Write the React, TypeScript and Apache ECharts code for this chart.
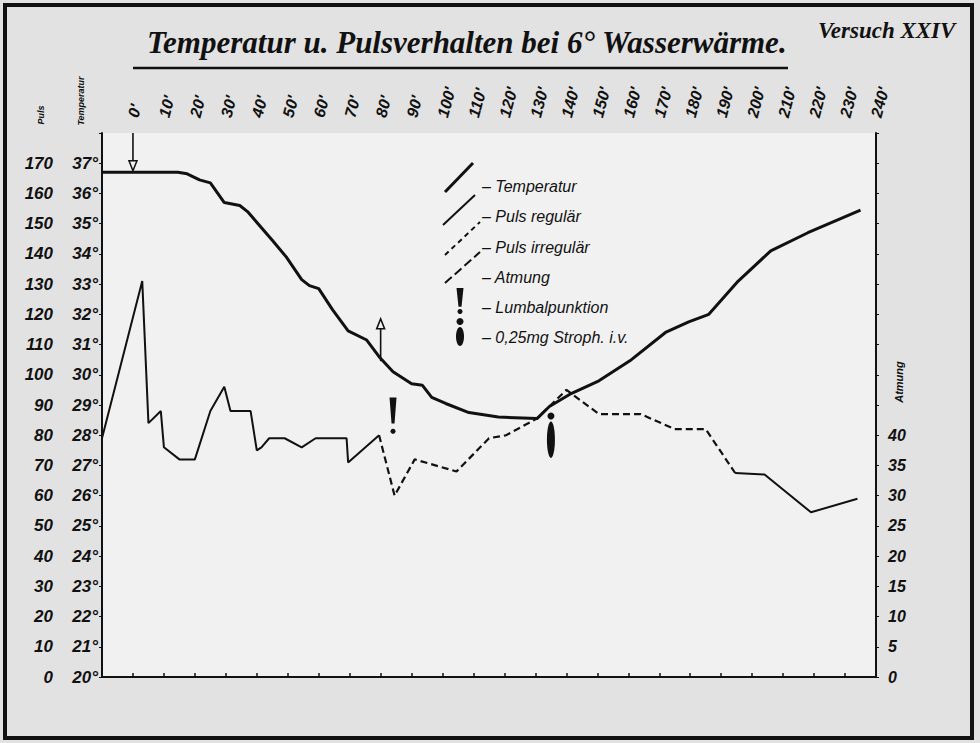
import React, { useEffect, useRef } from "react";
import * as echarts from "echarts";

// ---- data ----
const xMinutes = [-10, 240];
const pulsRange = [0, 180];
const tempRange = [20, 38];
const atmungRange = [0, 90];

// Temperatur [minute, °C]
const temperatur: [number, number][] = [
  [-10, 36.7], [14.5, 36.7], [17.5, 36.65], [21.5, 36.45], [25, 36.35], [29.5, 35.7],
  [34.5, 35.6], [37, 35.4], [45, 34.45], [49.5, 33.9], [54.5, 33.15], [57, 32.95],
  [60, 32.85], [64.5, 32.15], [69.5, 31.45], [75.5, 31.15], [79.5, 30.6], [84, 30.1],
  [90, 29.7], [93.5, 29.65], [96.5, 29.25], [101, 29.05], [108.5, 28.75], [118, 28.6],
  [130.5, 28.55], [134.5, 28.95], [141, 29.35], [150.5, 29.8], [161, 30.5], [172, 31.4],
  [179.5, 31.75], [186, 32], [195.5, 33.1], [206, 34.1], [218, 34.7], [235, 35.45],
];

// Puls regulär (first part)
const pulsRegularA: [number, number][] = [
  [-10, 79], [3, 131], [5, 84], [9, 88], [10, 76], [15, 72], [20, 72], [25, 88],
  [29.5, 96], [31.5, 88], [38, 88], [40, 75], [41.5, 76], [44, 79], [49, 79],
  [54.5, 76], [59, 79], [69, 79], [69.5, 71], [79.5, 80],
];
// Puls irregulär
const pulsIrregular: [number, number][] = [
  [79.5, 80], [84.5, 60], [91, 72], [104.5, 68], [115, 79], [120.5, 80], [130.5, 85.5],
  [140, 95], [150.5, 87], [164, 87], [175, 82], [185, 82], [194.5, 67.5],
];
// Puls regulär (second part)
const pulsRegularB: [number, number][] = [
  [194.5, 67.5], [204, 67], [219, 54.5], [234, 59],
];

// event markers: [minute, from (puls scale), to (puls scale)]
const markerData: [number, number, number][] = [
  [0, 180, 167.5],
  [80, 104.5, 118.5],
  [84, 92.5, 80.5],
  [135, 87.5, 72.5],
];
const markerKinds = ["down", "up", "lumbal", "stroph"];

const legendLabels = [
  "– Temperatur",
  "– Puls regulär",
  "– Puls irregulär",
  "– Atmung",
  "– Lumbalpunktion",
  "– 0,25mg Stroph. i.v.",
];

const INK = "#111";
const LBL_FONT = "Liberation Sans";

function exclamation(x: number, yTop: number, yBot: number) {
  const h = yBot - yTop;
  return [
    {
      type: "polygon",
      shape: {
        points: [
          [x - 3.5, yTop], [x + 3.5, yTop], [x + 1.5, yTop + h * 0.72], [x - 1.5, yTop + h * 0.72],
        ],
      },
      style: { fill: INK },
    },
    { type: "circle", shape: { cx: x, cy: yBot - 2.5, r: 2.5 }, style: { fill: INK } },
  ];
}

function drop(x: number, yTop: number, yBot: number) {
  const dotR = 3.5;
  const bodyTop = yTop + dotR * 2 + 2;
  return [
    { type: "circle", shape: { cx: x, cy: yTop + dotR, r: dotR }, style: { fill: INK } },
    {
      type: "ellipse",
      shape: { cx: x, cy: (bodyTop + yBot) / 2, rx: 4, ry: (yBot - bodyTop) / 2 },
      style: { fill: INK },
    },
  ];
}

export default function App() {
  const ref = useRef<HTMLDivElement>(null);

  useEffect(() => {
    if (!ref.current) return;
    const chart = echarts.init(ref.current, null, { renderer: "svg" });

    const axisFont = {
      fontFamily: LBL_FONT,
      fontStyle: "italic",
      fontWeight: "bold",
      fontSize: 17,
      color: INK,
    };

    const legendX1 = 445;
    const legendRows = [186, 216, 247, 277, 307, 337];

    const graphics: any[] = [
      // frame
      {
        type: "rect",
        shape: { x: 5, y: 5, width: 967, height: 733 },
        style: { fill: "none", stroke: INK, lineWidth: 4 },
        silent: true,
      },
      // title
      {
        type: "text",
        x: 147,
        y: 42,
        style: {
          text: "Temperatur u. Pulsverhalten bei 6° Wasserwärme.",
          font: "italic bold 31px 'Liberation Serif'",
          fill: INK,
          verticalAlign: "middle",
        },
      },
      {
        type: "line",
        shape: { x1: 133, y1: 68, x2: 788, y2: 68 },
        style: { stroke: INK, lineWidth: 2.5 },
      },
      {
        type: "text",
        x: 818,
        y: 30,
        style: {
          text: "Versuch XXIV",
          font: "italic bold 23px 'Liberation Serif'",
          fill: INK,
          verticalAlign: "middle",
        },
      },
      // axis titles
      {
        type: "text",
        x: 41,
        y: 115,
        rotation: Math.PI / 2,
        style: {
          text: "Puls",
          font: "italic bold 9px 'Liberation Sans'",
          fill: INK,
          align: "center",
          verticalAlign: "middle",
        },
      },
      {
        type: "text",
        x: 81,
        y: 101,
        rotation: Math.PI / 2,
        style: {
          text: "Temperatur",
          font: "italic bold 9px 'Liberation Sans'",
          fill: INK,
          align: "center",
          verticalAlign: "middle",
        },
      },
      {
        type: "text",
        x: 899,
        y: 382,
        rotation: Math.PI / 2,
        style: {
          text: "Atmung",
          font: "italic bold 11px 'Liberation Sans'",
          fill: INK,
          align: "center",
          verticalAlign: "middle",
        },
      },
      // legend symbols
      {
        type: "line",
        shape: { x1: legendX1, y1: 192, x2: 473, y2: 163 },
        style: { stroke: INK, lineWidth: 3 },
      },
      {
        type: "line",
        shape: { x1: legendX1 - 2, y1: 225, x2: 475, y2: 195 },
        style: { stroke: INK, lineWidth: 2 },
      },
      {
        type: "line",
        shape: { x1: legendX1, y1: 255, x2: 480, y2: 222 },
        style: { stroke: INK, lineWidth: 2, lineDash: [5, 4] },
      },
      {
        type: "line",
        shape: { x1: legendX1, y1: 283, x2: 480, y2: 252 },
        style: { stroke: INK, lineWidth: 2, lineDash: [9, 4] },
      },
      ...exclamation(460, 288, 314),
      ...drop(460, 318, 346),
      ...legendLabels.map((t, i) => ({
        type: "text",
        x: 482,
        y: legendRows[i],
        style: {
          text: t,
          font: "italic 16px 'Liberation Sans'",
          fill: INK,
          verticalAlign: "middle",
        },
      })),
    ];

    chart.setOption({
      animation: false,
      backgroundColor: "#e2e2e2",
      grid: {
        left: 102,
        right: 104,
        top: 133,
        bottom: 66,
        show: true,
        backgroundColor: "#f1f1f1",
        borderWidth: 0,
      },
      xAxis: {
        type: "value",
        position: "top",
        min: xMinutes[0],
        max: xMinutes[1],
        interval: 10,
        axisLine: { lineStyle: { color: INK, width: 2 } },
        axisTick: { inside: false, length: 4, lineStyle: { color: INK, width: 1.5 } },
        splitLine: { show: false },
        axisLabel: {
          ...axisFont,
          fontSize: 16,
          rotate: 75,
          margin: 16,
          formatter: (v: number) => (v < 0 ? "" : `${v}'`),
        },
      },
      yAxis: [
        {
          type: "value",
          position: "left",
          offset: 45,
          min: pulsRange[0],
          max: pulsRange[1],
          interval: 10,
          axisLine: { show: false },
          axisTick: { show: false },
          splitLine: { show: false },
          axisLabel: {
            ...axisFont,
            margin: 4,
            padding: [0, 0, 14, 0],
            formatter: (v: number) => (v <= 170 ? String(v) : ""),
          },
        },
        {
          type: "value",
          position: "left",
          min: tempRange[0],
          max: tempRange[1],
          interval: 1,
          axisLine: { show: true, lineStyle: { color: INK, width: 2 } },
          axisTick: { show: true, length: 3, lineStyle: { color: INK } },
          splitLine: { show: false },
          axisLabel: {
            ...axisFont,
            margin: 4,
            padding: [0, 0, 14, 0],
            formatter: (v: number) => (v <= 37 ? `${v}°` : ""),
          },
        },
        {
          type: "value",
          position: "right",
          min: atmungRange[0],
          max: atmungRange[1],
          interval: 5,
          axisLine: { show: true, lineStyle: { color: INK, width: 2 } },
          axisTick: { show: true, length: 3, lineStyle: { color: INK } },
          splitLine: { show: false },
          axisLabel: {
            ...axisFont,
            fontSize: 16,
            margin: 12,
            padding: [0, 0, 6, 0],
            formatter: (v: number) => (v <= 40 ? String(v) : ""),
          },
        },
      ],
      series: [
        {
          name: "Temperatur",
          type: "line",
          yAxisIndex: 1,
          data: temperatur,
          showSymbol: false,
          lineStyle: { color: INK, width: 3 },
        },
        {
          name: "Puls regulär",
          type: "line",
          yAxisIndex: 0,
          data: pulsRegularA,
          showSymbol: false,
          lineStyle: { color: INK, width: 2 },
        },
        {
          name: "Puls irregulär",
          type: "line",
          yAxisIndex: 0,
          data: pulsIrregular,
          showSymbol: false,
          lineStyle: { color: INK, width: 2.2, type: [7, 4] },
        },
        {
          name: "Puls regulär 2",
          type: "line",
          yAxisIndex: 0,
          data: pulsRegularB,
          showSymbol: false,
          lineStyle: { color: INK, width: 2 },
        },
        {
          name: "Ereignisse",
          type: "custom",
          yAxisIndex: 0,
          clip: false,
          data: markerData,
          encode: { x: 0, y: 1 },
          renderItem: (params: any, api: any) => {
            const kind = markerKinds[params.dataIndex];
            const t = api.value(0);
            const p1 = api.coord([t, api.value(1)]);
            const p2 = api.coord([t, api.value(2)]);
            const x = p1[0];
            const y1 = p1[1];
            const y2 = p2[1];
            if (kind === "down" || kind === "up") {
              const dir = y2 > y1 ? 1 : -1;
              return {
                type: "group",
                children: [
                  {
                    type: "line",
                    shape: { x1: x, y1, x2: x, y2: y2 - dir * 6 },
                    style: { stroke: INK, lineWidth: 1.6 },
                  },
                  {
                    type: "polygon",
                    shape: {
                      points: [
                        [x - 4, y2 - dir * 10],
                        [x + 4, y2 - dir * 10],
                        [x, y2],
                      ],
                    },
                    style: { fill: "#f1f1f1", stroke: INK, lineWidth: 1.5 },
                  },
                ],
              };
            }
            const top = Math.min(y1, y2);
            const bot = Math.max(y1, y2);
            return {
              type: "group",
              children: kind === "lumbal" ? exclamation(x, top, bot) : drop(x, top, bot),
            };
          },
        },
      ],
      graphic: graphics,
    });

    return () => chart.dispose();
  }, []);

  return (
    <div
      ref={ref}
      style={{ position: "fixed", left: 0, top: 0, width: 980, height: 743 }}
    />
  );
}
